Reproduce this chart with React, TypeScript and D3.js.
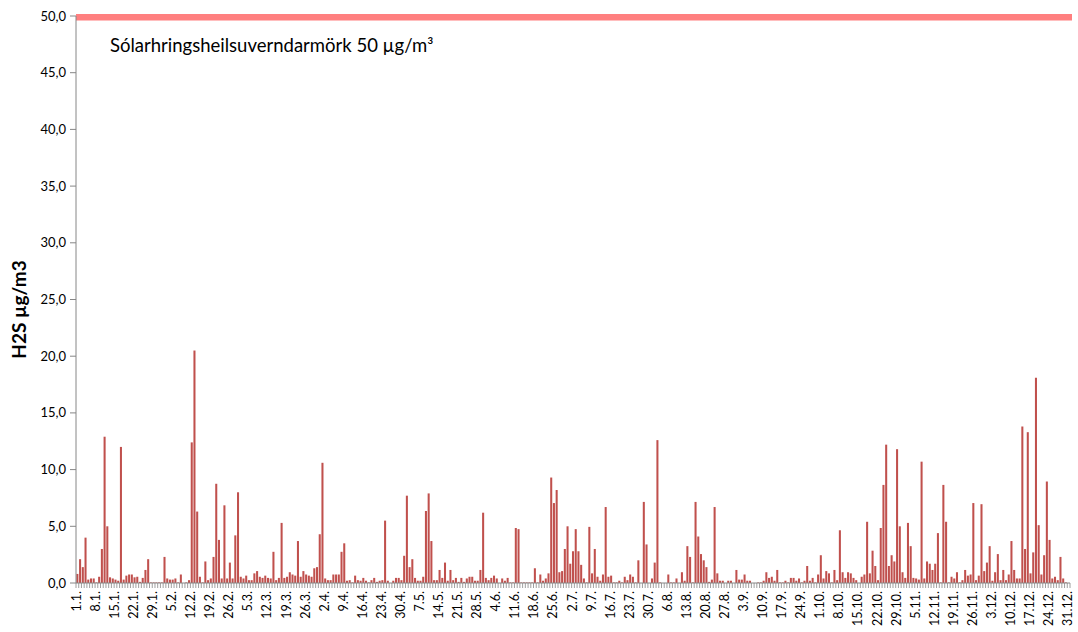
import React from 'react';
import * as d3 from 'd3';

// Daily H2S values (µg/m3), 1 Jan – 31 Dec
const values: number[] = [
  0.8, 2.1, 1.4, 4.0, 0.3, 0.4, 0.4, 0.05, 0.55, 3.0,
  12.9, 5.0, 0.5, 0.4, 0.3, 0.2, 12.0, 0.3, 0.65, 0.75,
  0.75, 0.5, 0.55, 0.1, 0.45, 1.15, 2.1, 0.05, 0.05, 0.05,
  0.05, 0.05, 2.3, 0.4, 0.3, 0.3, 0.4, 0.05, 0.75, 0.0,
  0.05, 0.25, 12.4, 20.5, 6.3, 0.55, 0.05, 1.9, 0.25, 0.4,
  2.3, 8.75, 3.8, 0.4, 6.85, 0.4, 1.8, 0.4, 4.2, 8.0,
  0.55, 0.4, 0.65, 0.25, 0.25, 0.85, 1.05, 0.55, 0.45, 0.65,
  0.45, 0.4, 2.75, 0.25, 0.45, 5.3, 0.45, 0.55, 0.95, 0.75,
  0.65, 3.7, 0.55, 1.05, 0.75, 0.65, 0.55, 1.3, 1.4, 4.3,
  10.6, 0.4, 0.25, 0.25, 0.75, 0.75, 0.75, 2.75, 3.5, 0.2,
  0.25, 0.05, 0.65, 0.25, 0.2, 0.45, 0.2, 0.05, 0.25, 0.45,
  0.1, 0.2, 0.25, 5.5, 0.2, 0.0, 0.2, 0.45, 0.45, 0.25,
  2.4, 7.7, 1.4, 2.1, 0.45, 0.2, 0.2, 0.55, 6.35, 7.9,
  3.7, 0.25, 0.25, 1.15, 0.45, 1.8, 0.2, 1.15, 0.25, 0.45,
  0.1, 0.45, 0.1, 0.4, 0.55, 0.55, 0.2, 0.2, 1.15, 6.2,
  0.45, 0.25, 0.45, 0.65, 0.4, 0.0, 0.4, 0.2, 0.45, 0.05,
  0.05, 4.85, 4.75, 0.05, 0.05, 0.05, 0.05, 0.05, 1.3, 0.05,
  0.75, 0.2, 0.4, 0.85, 9.3, 7.05, 8.2, 0.95, 1.05, 3.0,
  5.0, 1.7, 2.8, 4.75, 2.8, 1.6, 0.4, 0.05, 4.95, 0.85,
  3.0, 0.55, 0.2, 0.75, 6.7, 0.55, 0.65, 0.05, 0.05, 0.2,
  0.05, 0.55, 0.25, 0.75, 0.55, 0.05, 2.0, 0.0, 7.15, 3.4,
  0.0, 0.4, 1.8, 12.6, 0.05, 0.0, 0.0, 0.75, 0.05, 0.05,
  0.4, 0.0, 0.95, 0.2, 3.25, 2.3, 0.05, 7.15, 4.1, 2.55,
  2.0, 1.4, 0.1, 0.3, 6.7, 0.85, 0.2, 0.2, 0.0, 0.2,
  0.2, 0.0, 1.15, 0.3, 0.3, 0.75, 0.2, 0.2, 0.0, 0.0,
  0.05, 0.05, 0.2, 0.95, 0.45, 0.55, 0.2, 1.15, 0.05, 0.05,
  0.2, 0.05, 0.45, 0.45, 0.2, 0.4, 0.05, 0.2, 1.5, 0.2,
  0.45, 0.05, 0.75, 2.45, 0.4, 1.05, 0.85, 0.05, 1.15, 0.25,
  4.65, 0.95, 0.45, 0.95, 0.85, 0.45, 0.25, 0.0, 0.55, 0.75,
  5.4, 0.85, 2.85, 1.5, 0.25, 4.85, 8.65, 12.2, 1.5, 2.45,
  1.9, 11.8, 5.0, 0.95, 0.45, 5.3, 3.25, 0.45, 0.4, 0.3,
  10.7, 0.4, 1.9, 1.7, 1.15, 1.7, 4.4, 0.05, 8.65, 5.4,
  0.05, 0.55, 0.4, 0.95, 0.05, 0.25, 1.15, 0.65, 0.75, 7.05,
  0.25, 0.65, 6.95, 1.05, 1.8, 3.25, 0.2, 0.95, 2.55, 0.25,
  1.15, 0.25, 0.75, 3.7, 1.15, 0.4, 0.4, 13.8, 3.0, 13.3,
  0.85, 2.7, 18.1, 5.1, 0.75, 2.45, 8.95, 3.8, 0.4, 0.55,
  0.25, 2.3, 0.4, 0.05, 0.0,
];

// Category labels shown every 7th day
const tickLabels: string[] = [
  '1.1.', '8.1.', '15.1.', '22.1.', '29.1.',
  '5.2.', '12.2.', '19.2.', '26.2.',
  '5.3.', '12.3.', '19.3.', '26.3.',
  '2.4.', '9.4.', '16.4.', '23.4.', '30.4.',
  '7.5.', '14.5.', '21.5.', '28.5.',
  '4.6.', '11.6.', '18.6.', '25.6.',
  '2.7.', '9.7.', '16.7.', '23.7.', '30.7.',
  '6.8.', '13.8.', '20.8.', '27.8.',
  '3.9.', '10.9.', '17.9.', '24.9.',
  '1.10.', '8.10.', '15.10.', '22.10.', '29.10.',
  '5.11.', '12.11.', '19.11.', '26.11.',
  '3.12.', '10.12.', '17.12.', '24.12.', '31.12.',
];
const labelEvery = 7;

const yTicks: number[] = [0, 5, 10, 15, 20, 25, 30, 35, 40, 45, 50];
const yMax = 50;
const limitValue = 50;
const limitLabel = 'Sólarhringsheilsuverndarmörk 50 µg/m³';
const yTitle = 'H2S µg/m3';

const FONT = 'Lato, "Open Sans", sans-serif';

export default function App() {
  const W = 1078;
  const H = 632;
  const left = 76;
  const right = 1070;
  const top = 16;
  const bottom = 583;

  const days = d3.range(values.length);
  const x = d3
    .scaleBand<number>()
    .domain(days)
    .range([left, right])
    .paddingInner(0.25)
    .paddingOuter(0.125);
  const step = x.step();
  const y = d3.scaleLinear().domain([0, yMax]).range([bottom, top]);
  const fmt = (v: number) => d3.format('.1f')(v).replace('.', ',');

  const axisColor = '#868686';

  return (
    <svg
      width={W}
      height={H}
      style={{ position: 'absolute', left: 0, top: 0, background: '#fff' }}
      fontFamily={FONT}
    >
      {/* bars */}
      {values.map((v, i) => (
        <rect
          key={i}
          x={x(i)}
          y={y(v)}
          width={x.bandwidth()}
          height={Math.max(0, bottom - y(v))}
          fill="#C0504D"
        />
      ))}

      {/* limit line */}
      <line
        x1={left}
        x2={right + 2}
        y1={y(limitValue) + 1.3}
        y2={y(limitValue) + 1.3}
        stroke="#FF7F7F"
        strokeWidth={6.5}
      />
      <text x={110} y={52} fontSize={18.5} fill="#000">
        {limitLabel}
      </text>

      {/* y axis */}
      <line x1={left} x2={left} y1={top} y2={bottom} stroke={axisColor} strokeWidth={1} />
      {yTicks.map((t) => (
        <g key={t}>
          <line x1={left - 6} x2={left} y1={y(t)} y2={y(t)} stroke={axisColor} />
          <text
            x={left - 10}
            y={y(t)}
            dy="0.35em"
            textAnchor="end"
            fontSize={13}
            fill="#000"
          >
            {fmt(t)}
          </text>
        </g>
      ))}
      <text
        transform={`translate(${26},${(top + bottom) / 2 + 10}) rotate(-90)`}
        textAnchor="middle"
        fontSize={19}
        fontWeight="bold"
        fill="#000"
      >
        {yTitle}
      </text>

      {/* x axis */}
      <line x1={left} x2={right} y1={bottom} y2={bottom} stroke={axisColor} />
      {d3.range(values.length + 1).map((i) => (
        <line
          key={i}
          x1={left + i * step}
          x2={left + i * step}
          y1={bottom}
          y2={bottom + 5}
          stroke={axisColor}
          strokeWidth={0.8}
        />
      ))}
      {tickLabels.map((lab, k) => {
        const d = k * labelEvery;
        const cx = (x(d) as number) + x.bandwidth() / 2;
        return (
          <text
            key={lab}
            transform={`translate(${cx + 3.5},${bottom + 8}) rotate(-90)`}
            textAnchor="end"
            fontSize={12.5}
            fill="#000"
          >
            {lab}
          </text>
        );
      })}
    </svg>
  );
}
